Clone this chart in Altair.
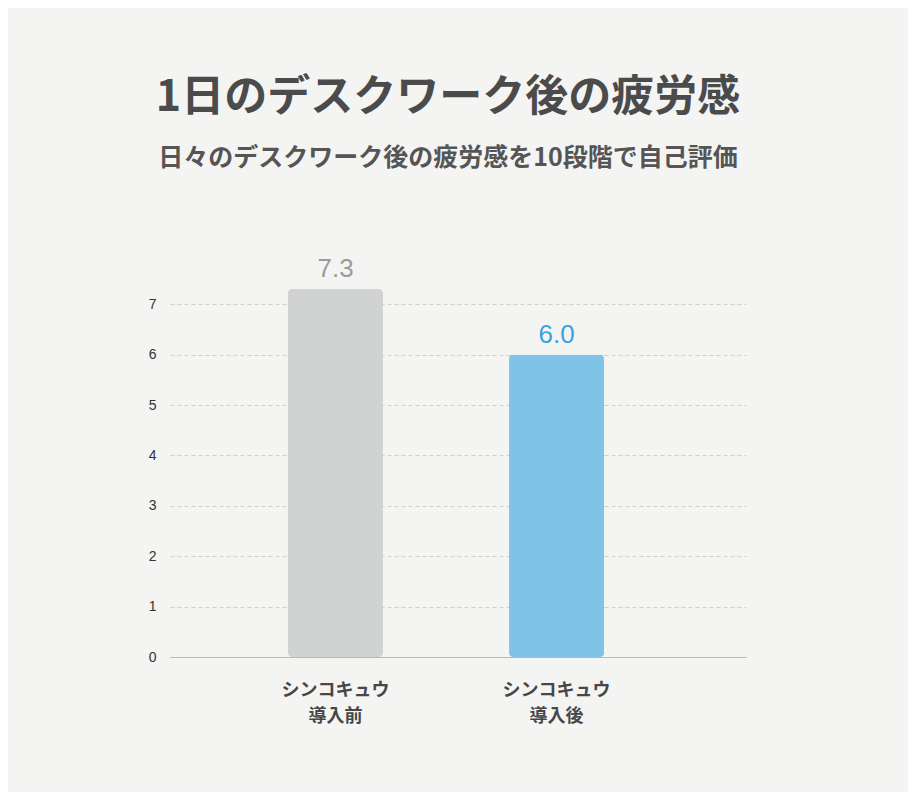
import altair as alt
import pandas as pd

# ---- data ----
categories = ["シンコキュウ 導入前", "シンコキュウ 導入後"]
values = [7.3, 6.0]
y_ticks = [0, 1, 2, 3, 4, 5, 6, 7]
title_text = "1日のデスクワーク後の疲労感"
subtitle_text = "日々のデスクワーク後の疲労感を10段階で自己評価"

bar_colors = ["#d1d3d2", "#7fc3e6"]
label_colors = ["#9b9b9b", "#3aa3de"]

df = pd.DataFrame({"cat": categories, "val": values})

CJK = "Noto Sans CJK JP"
LAT = "Liberation Sans"

x_enc = alt.X(
    "cat:N",
    sort=categories,
    scale=alt.Scale(paddingInner=0.57, paddingOuter=0.588, align=0.454),
    axis=alt.Axis(
        title=None,
        labelAngle=0,
        labelExpr="split(datum.label, ' ')",
        labelFont=CJK,
        labelFontSize=18,
        labelFontWeight="bold",
        labelColor="#474747",
        labelLineHeight=26,
        labelPadding=24,
        ticks=False,
        domain=True,
        domainColor="#b9b9b9",
        domainWidth=1,
        grid=False,
    ),
)

y_scale = alt.Scale(domain=[0, 7.5], nice=False, zero=True)

bars = alt.Chart(df).mark_bar(cornerRadius=4).encode(
    x=x_enc,
    y=alt.Y(
        "val:Q",
        scale=y_scale,
        axis=alt.Axis(
            title=None,
            values=y_ticks,
            labelFont=LAT,
            labelFontSize=14,
            labelColor="#333333",
            labelPadding=14,
            ticks=False,
            domain=False,
            grid=True,
            gridColor="#cfcfcf",
            gridDash=[4, 3],
            gridWidth=1,
        ),
    ),
    fill=alt.Fill("cat:N", scale=alt.Scale(domain=categories, range=bar_colors), legend=None),
)

labels = alt.Chart(df).mark_text(
    font=LAT, fontSize=26, baseline="alphabetic", dy=-12
).encode(
    x=alt.X("cat:N", sort=categories),
    y=alt.Y("val:Q", scale=y_scale),
    text=alt.Text("val:Q", format=".1f"),
    color=alt.Color("cat:N", scale=alt.Scale(domain=categories, range=label_colors), legend=None),
)

chart = (
    alt.layer(bars, labels)
    .properties(
        width=576,
        height=378,
        autosize=alt.AutoSizeParams(type="none"),
        padding={"left": 162, "top": 271, "right": 162, "bottom": 135},
        background="#f4f4f3",
        title=alt.TitleParams(
            text=title_text,
            subtitle=subtitle_text,
            anchor="middle",
            frame="group",
            dx=-10,
            offset=85,
            font=CJK,
            fontSize=43,
            fontWeight="bold",
            color="#4b4b4b",
            subtitleFont=CJK,
            subtitleFontSize=25,
            subtitleFontWeight="bold",
            subtitleColor="#555555",
            subtitlePadding=26,
        ),
    )
    .configure_view(stroke=None)
)

chart.save("out.html", embed_options={"renderer": "svg", "actions": False})
